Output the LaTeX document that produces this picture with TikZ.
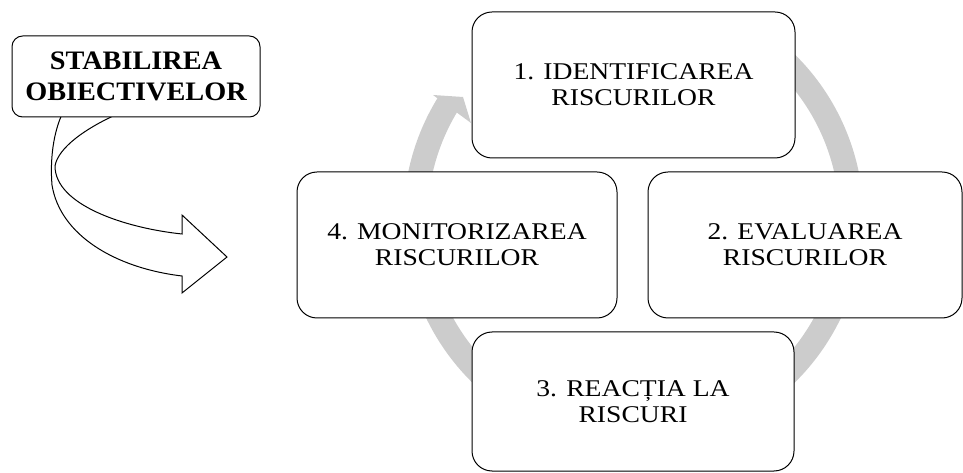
\documentclass[tikz,border=0pt]{standalone}
\usepackage{fontspec}
\setmainfont{Liberation Serif}
\newfontfamily\stagefont[FakeStretch=1.15]{Liberation Serif}
\newfontfamily\headfont[FakeStretch=1.06]{Liberation Serif}
\definecolor{ringgray}{HTML}{CCCCCC}
\begin{document}
\begin{tikzpicture}[x=0.75pt, y=-0.75pt,
  stagebox/.style={draw=black, line width=0.75pt, fill=white,
    rounded corners=15pt, inner sep=0pt, outer sep=0pt, align=center,
    font=\stagefont\fontsize{18}{19.5}\selectfont},
  headbox/.style={draw=black, line width=0.75pt, fill=white,
    rounded corners=8pt, inner sep=0pt, outer sep=0pt, align=center,
    font=\headfont\bfseries\fontsize{20}{23.3}\selectfont},
  cycleband/.style={draw=ringgray, line width=18pt},
  cyclehead/.style={fill=ringgray, draw=none},
  bentarrow/.style={draw=black, line width=0.75pt, fill=white}]
\useasboundingbox (0,0) rectangle (963,473);

% grey cycle ring behind the four stages
\coordinate (ringc) at (633.5,218.5);
\draw[cycleband] (ringc) ++(-60:218) arc[start angle=-60, end angle=212, radius=218];
\fill[cyclehead] (433,95) -- (463,97) -- (471,123) -- cycle;

% the four stages of the cycle
\node[stagebox, minimum width=242.25pt, minimum height=109.5pt] (s1) at (633.5,85)
  {1. IDENTIFICAREA\\RISCURILOR};
\node[stagebox, minimum width=235.5pt, minimum height=109.5pt] (s2) at (805,245)
  {2. EVALUAREA\\RISCURILOR};
\node[stagebox, minimum width=241.5pt, minimum height=104.25pt] (s3) at (633,401.5)
  {3. REACȚIA LA\\RISCURI};
\node[stagebox, minimum width=240pt, minimum height=109.5pt] (s4) at (457,245)
  {4. MONITORIZAREA\\RISCURILOR};

% bent arrow leading from the objectives into the cycle
\draw[bentarrow] (63,112) .. controls (53,133) and (50,160) .. (52,185)
  .. controls (60,235) and (115,268) .. (182,276)
  -- (182,293) -- (227,257) -- (182,215) -- (182,234)
  .. controls (125,228) and (55,205) .. (55,166)
  .. controls (58,148) and (85,128) .. (122,112) -- cycle;

\node[headbox, minimum width=186pt, minimum height=60.75pt] (obj) at (136,76.5)
  {STABILIREA\\OBIECTIVELOR};
\end{tikzpicture}
\end{document}
